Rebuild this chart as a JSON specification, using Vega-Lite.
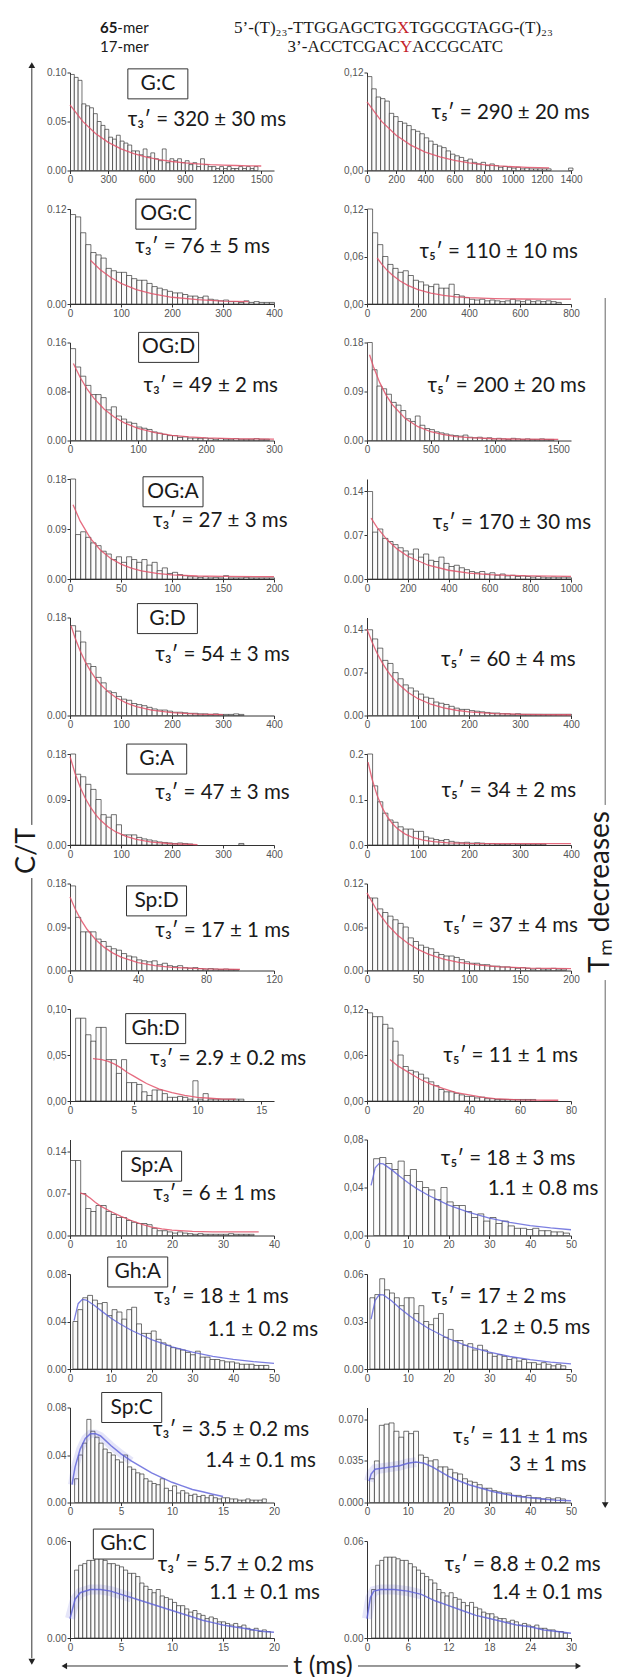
{
"$schema":"https://vega.github.io/schema/vega-lite/v6.json",
"background":"white",
"padding":{"left":12,"top":0,"right":0,"bottom":0},
"bounds":"flush",
"align":"each",
"columns":2,
"spacing":{"row":38.5,"column":93},
"config":{
 "view":{"stroke":null},
 "font":"Lato",
 "axis":{"title":null,"grid":false,"labelFont":"Liberation Sans","labelFontSize":10,"labelColor":"#555","domainColor":"#333","tickColor":"#333","tickSize":3,"labelPadding":1,"labelOverlap":false,"labelFlush":false,"domainWidth":1,"tickWidth":1},
 "text":{"font":"Lato","color":"#1a1a1a"}
},
"datasets":{
"b1L":[{"t":0,"c":0.098},{"t":30,"c":0.095},{"t":60,"c":0.092},{"t":90,"c":0.068},{"t":120,"c":0.066},{"t":150,"c":0.064},{"t":180,"c":0.058},{"t":210,"c":0.05},{"t":240,"c":0.046},{"t":270,"c":0.042},{"t":300,"c":0.034},{"t":330,"c":0.032},{"t":360,"c":0.036},{"t":390,"c":0.03},{"t":420,"c":0.028},{"t":450,"c":0.026},{"t":480,"c":0.02},{"t":510,"c":0.02},{"t":540,"c":0.016},{"t":570,"c":0.022},{"t":600,"c":0.014},{"t":630,"c":0.018},{"t":660,"c":0.012},{"t":690,"c":0.01},{"t":720,"c":0.022},{"t":750,"c":0.008},{"t":780,"c":0.012},{"t":810,"c":0.01},{"t":840,"c":0.012},{"t":870,"c":0.008},{"t":900,"c":0.01},{"t":930,"c":0.006},{"t":960,"c":0.008},{"t":990,"c":0.004},{"t":1020,"c":0.012},{"t":1050,"c":0.006},{"t":1080,"c":0.004},{"t":1110,"c":0.004},{"t":1140,"c":0.002},{"t":1170,"c":0.004},{"t":1200,"c":0.002},{"t":1230,"c":0.004},{"t":1260,"c":0.002},{"t":1290,"c":0.002},{"t":1320,"c":0.004},{"t":1350,"c":0.002},{"t":1380,"c":0.004},{"t":1410,"c":0.002},{"t":1440,"c":0.004}],
"f1L":[{"t":0,"f":0.067},{"t":100,"f":0.0501},{"t":200,"f":0.0377},{"t":300,"f":0.0287},{"t":400,"f":0.022},{"t":500,"f":0.0172},{"t":600,"f":0.0137},{"t":700,"f":0.0111},{"t":800,"f":0.0092},{"t":900,"f":0.0078},{"t":1000,"f":0.0068},{"t":1100,"f":0.006},{"t":1200,"f":0.0055},{"t":1300,"f":0.0051},{"t":1400,"f":0.0048},{"t":1500,"f":0.0046}],
"b1R":[{"t":0,"c":0.115},{"t":30,"c":0.1},{"t":60,"c":0.09},{"t":90,"c":0.088},{"t":120,"c":0.085},{"t":150,"c":0.07},{"t":180,"c":0.066},{"t":210,"c":0.06},{"t":240,"c":0.058},{"t":270,"c":0.055},{"t":300,"c":0.05},{"t":330,"c":0.048},{"t":360,"c":0.045},{"t":390,"c":0.04},{"t":420,"c":0.036},{"t":450,"c":0.032},{"t":480,"c":0.03},{"t":510,"c":0.028},{"t":540,"c":0.024},{"t":570,"c":0.02},{"t":600,"c":0.018},{"t":630,"c":0.016},{"t":660,"c":0.012},{"t":690,"c":0.014},{"t":720,"c":0.01},{"t":750,"c":0.008},{"t":780,"c":0.01},{"t":810,"c":0.006},{"t":840,"c":0.008},{"t":870,"c":0.006},{"t":900,"c":0.004},{"t":930,"c":0.005},{"t":960,"c":0.004},{"t":990,"c":0.003},{"t":1020,"c":0.004},{"t":1050,"c":0.002},{"t":1080,"c":0.003},{"t":1110,"c":0.002},{"t":1140,"c":0.002},{"t":1170,"c":0.002},{"t":1200,"c":0.002},{"t":1230,"c":0.002},{"t":1380,"c":0.003}],
"f1R":[{"t":0,"f":0.084},{"t":100,"f":0.0601},{"t":200,"f":0.0431},{"t":300,"f":0.0311},{"t":400,"f":0.0226},{"t":500,"f":0.0166},{"t":600,"f":0.0124},{"t":700,"f":0.0093},{"t":800,"f":0.0072},{"t":900,"f":0.0057},{"t":1000,"f":0.0046},{"t":1100,"f":0.0038},{"t":1250,"f":0.0031}],
"b2L":[{"t":0,"c":0.113},{"t":10,"c":0.11},{"t":20,"c":0.09},{"t":30,"c":0.075},{"t":40,"c":0.065},{"t":50,"c":0.062},{"t":60,"c":0.058},{"t":70,"c":0.045},{"t":80,"c":0.042},{"t":90,"c":0.04},{"t":100,"c":0.04},{"t":110,"c":0.036},{"t":120,"c":0.032},{"t":130,"c":0.03},{"t":140,"c":0.03},{"t":150,"c":0.026},{"t":160,"c":0.022},{"t":170,"c":0.02},{"t":180,"c":0.018},{"t":190,"c":0.016},{"t":200,"c":0.014},{"t":210,"c":0.014},{"t":220,"c":0.012},{"t":230,"c":0.01},{"t":240,"c":0.01},{"t":250,"c":0.008},{"t":260,"c":0.01},{"t":270,"c":0.006},{"t":280,"c":0.005},{"t":290,"c":0.004},{"t":300,"c":0.005},{"t":310,"c":0.003},{"t":320,"c":0.003},{"t":330,"c":0.002},{"t":340,"c":0.004},{"t":350,"c":0.002},{"t":360,"c":0.003},{"t":370,"c":0.002},{"t":380,"c":0.002},{"t":390,"c":0.002}],
"f2L":[{"t":40,"f":0.0552},{"t":60,"f":0.0429},{"t":80,"f":0.0334},{"t":100,"f":0.0261},{"t":130,"f":0.0183},{"t":160,"f":0.013},{"t":200,"f":0.0085},{"t":250,"f":0.0054},{"t":300,"f":0.0037},{"t":350,"f":0.0029}],
"b2R":[{"t":0,"c":0.12},{"t":20,"c":0.09},{"t":40,"c":0.075},{"t":60,"c":0.06},{"t":80,"c":0.05},{"t":100,"c":0.045},{"t":120,"c":0.04},{"t":140,"c":0.042},{"t":160,"c":0.036},{"t":180,"c":0.03},{"t":200,"c":0.028},{"t":220,"c":0.024},{"t":240,"c":0.022},{"t":260,"c":0.025},{"t":280,"c":0.02},{"t":300,"c":0.02},{"t":320,"c":0.025},{"t":340,"c":0.012},{"t":360,"c":0.01},{"t":380,"c":0.008},{"t":400,"c":0.006},{"t":420,"c":0.005},{"t":440,"c":0.006},{"t":460,"c":0.004},{"t":480,"c":0.005},{"t":500,"c":0.004},{"t":520,"c":0.003},{"t":540,"c":0.004},{"t":560,"c":0.006},{"t":580,"c":0.004},{"t":600,"c":0.003},{"t":620,"c":0.005},{"t":640,"c":0.003},{"t":660,"c":0.004},{"t":680,"c":0.003},{"t":700,"c":0.004},{"t":720,"c":0.003},{"t":740,"c":0.002}],
"f2R":[{"t":40,"f":0.0581},{"t":60,"f":0.0495},{"t":80,"f":0.0422},{"t":100,"f":0.0362},{"t":130,"f":0.029},{"t":160,"f":0.0235},{"t":200,"f":0.0182},{"t":250,"f":0.0137},{"t":300,"f":0.0109},{"t":350,"f":0.0091},{"t":400,"f":0.008},{"t":500,"f":0.0068},{"t":600,"f":0.0063},{"t":700,"f":0.0061},{"t":800,"f":0.0061}],
"b3L":[{"t":0,"c":0.15},{"t":7.5,"c":0.12},{"t":15,"c":0.105},{"t":22.5,"c":0.09},{"t":30,"c":0.075},{"t":37.5,"c":0.075},{"t":45,"c":0.07},{"t":52.5,"c":0.05},{"t":60,"c":0.055},{"t":67.5,"c":0.04},{"t":75,"c":0.035},{"t":82.5,"c":0.03},{"t":90,"c":0.028},{"t":97.5,"c":0.022},{"t":105,"c":0.02},{"t":112.5,"c":0.018},{"t":120,"c":0.014},{"t":127.5,"c":0.012},{"t":135,"c":0.01},{"t":142.5,"c":0.008},{"t":150,"c":0.008},{"t":157.5,"c":0.005},{"t":165,"c":0.006},{"t":172.5,"c":0.004},{"t":180,"c":0.004},{"t":187.5,"c":0.003},{"t":195,"c":0.004},{"t":202.5,"c":0.003},{"t":210,"c":0.002},{"t":217.5,"c":0.003},{"t":225,"c":0.002},{"t":232.5,"c":0.002},{"t":240,"c":0.003},{"t":247.5,"c":0.002},{"t":255,"c":0.002},{"t":262.5,"c":0.002},{"t":270,"c":0.003},{"t":277.5,"c":0.002},{"t":285,"c":0.002}],
"f3L":[{"t":5,"f":0.1257},{"t":15,"f":0.1029},{"t":25,"f":0.0843},{"t":35,"f":0.0691},{"t":50,"f":0.0514},{"t":65,"f":0.0384},{"t":80,"f":0.0288},{"t":100,"f":0.0198},{"t":125,"f":0.0127},{"t":150,"f":0.0084},{"t":175,"f":0.0058},{"t":200,"f":0.0043},{"t":250,"f":0.0028},{"t":300,"f":0.0023}],
"b3R":[{"t":0,"c":0.18},{"t":37.5,"c":0.13},{"t":75,"c":0.1},{"t":112.5,"c":0.095},{"t":150,"c":0.085},{"t":187.5,"c":0.07},{"t":225,"c":0.065},{"t":262.5,"c":0.055},{"t":300,"c":0.04},{"t":337.5,"c":0.035},{"t":375,"c":0.045},{"t":412.5,"c":0.028},{"t":450,"c":0.022},{"t":487.5,"c":0.02},{"t":525,"c":0.016},{"t":562.5,"c":0.014},{"t":600,"c":0.012},{"t":637.5,"c":0.01},{"t":675,"c":0.009},{"t":712.5,"c":0.008},{"t":750,"c":0.01},{"t":787.5,"c":0.006},{"t":825,"c":0.005},{"t":862.5,"c":0.006},{"t":900,"c":0.004},{"t":937.5,"c":0.005},{"t":975,"c":0.003},{"t":1012.5,"c":0.004},{"t":1050,"c":0.003},{"t":1087.5,"c":0.002},{"t":1125,"c":0.004},{"t":1162.5,"c":0.003},{"t":1200,"c":0.002},{"t":1237.5,"c":0.003},{"t":1275,"c":0.002},{"t":1312.5,"c":0.002},{"t":1350,"c":0.003},{"t":1387.5,"c":0.002},{"t":1425,"c":0.002}],
"f3R":[{"t":20,"f":0.1576},{"t":50,"f":0.136},{"t":100,"f":0.1063},{"t":150,"f":0.0833},{"t":200,"f":0.0653},{"t":300,"f":0.0404},{"t":400,"f":0.0253},{"t":500,"f":0.0161},{"t":600,"f":0.0106},{"t":700,"f":0.0072},{"t":800,"f":0.0051},{"t":1000,"f":0.0032},{"t":1200,"f":0.0024},{"t":1500,"f":0.0021}],
"b4L":[{"t":0,"c":0.18},{"t":5,"c":0.08},{"t":10,"c":0.085},{"t":15,"c":0.075},{"t":20,"c":0.065},{"t":25,"c":0.06},{"t":30,"c":0.05},{"t":35,"c":0.045},{"t":40,"c":0.035},{"t":45,"c":0.04},{"t":50,"c":0.03},{"t":55,"c":0.04},{"t":60,"c":0.035},{"t":65,"c":0.03},{"t":70,"c":0.035},{"t":75,"c":0.025},{"t":80,"c":0.03},{"t":85,"c":0.015},{"t":90,"c":0.02},{"t":95,"c":0.01},{"t":100,"c":0.012},{"t":105,"c":0.008},{"t":110,"c":0.006},{"t":115,"c":0.004},{"t":120,"c":0.004},{"t":125,"c":0.003},{"t":130,"c":0.004},{"t":135,"c":0.002},{"t":140,"c":0.003},{"t":145,"c":0.002},{"t":150,"c":0.006},{"t":155,"c":0.002},{"t":160,"c":0.002},{"t":165,"c":0.002},{"t":170,"c":0.003},{"t":175,"c":0.002},{"t":180,"c":0.002},{"t":185,"c":0.002},{"t":190,"c":0.002},{"t":195,"c":0.002}],
"f4L":[{"t":3,"f":0.1337},{"t":10,"f":0.1041},{"t":20,"f":0.0731},{"t":30,"f":0.0517},{"t":40,"f":0.037},{"t":50,"f":0.0268},{"t":60,"f":0.0197},{"t":70,"f":0.0148},{"t":85,"f":0.0102},{"t":100,"f":0.0076},{"t":125,"f":0.0054},{"t":150,"f":0.0046},{"t":200,"f":0.0041}],
"b4R":[{"t":0,"c":0.14},{"t":25,"c":0.075},{"t":50,"c":0.08},{"t":75,"c":0.065},{"t":100,"c":0.06},{"t":125,"c":0.055},{"t":150,"c":0.05},{"t":175,"c":0.045},{"t":200,"c":0.04},{"t":225,"c":0.048},{"t":250,"c":0.035},{"t":275,"c":0.04},{"t":300,"c":0.03},{"t":325,"c":0.028},{"t":350,"c":0.035},{"t":375,"c":0.025},{"t":400,"c":0.02},{"t":425,"c":0.022},{"t":450,"c":0.018},{"t":475,"c":0.015},{"t":500,"c":0.012},{"t":525,"c":0.01},{"t":550,"c":0.012},{"t":575,"c":0.008},{"t":600,"c":0.01},{"t":625,"c":0.006},{"t":650,"c":0.008},{"t":675,"c":0.005},{"t":700,"c":0.006},{"t":725,"c":0.004},{"t":750,"c":0.005},{"t":775,"c":0.004},{"t":800,"c":0.003},{"t":825,"c":0.004},{"t":850,"c":0.003},{"t":875,"c":0.002},{"t":900,"c":0.003},{"t":925,"c":0.002},{"t":950,"c":0.003},{"t":975,"c":0.002}],
"f4R":[{"t":20,"f":0.0973},{"t":50,"f":0.0822},{"t":100,"f":0.0623},{"t":150,"f":0.0474},{"t":200,"f":0.0364},{"t":300,"f":0.022},{"t":400,"f":0.014},{"t":500,"f":0.0095},{"t":600,"f":0.0071},{"t":700,"f":0.0057},{"t":800,"f":0.0049},{"t":1000,"f":0.0043}],
"b5L":[{"t":0,"c":0.165},{"t":10,"c":0.155},{"t":20,"c":0.135},{"t":30,"c":0.095},{"t":40,"c":0.09},{"t":50,"c":0.07},{"t":60,"c":0.06},{"t":70,"c":0.045},{"t":80,"c":0.042},{"t":90,"c":0.035},{"t":100,"c":0.03},{"t":110,"c":0.028},{"t":120,"c":0.022},{"t":130,"c":0.02},{"t":140,"c":0.018},{"t":150,"c":0.015},{"t":160,"c":0.012},{"t":170,"c":0.01},{"t":180,"c":0.01},{"t":190,"c":0.008},{"t":200,"c":0.006},{"t":210,"c":0.006},{"t":220,"c":0.005},{"t":230,"c":0.004},{"t":240,"c":0.004},{"t":250,"c":0.003},{"t":260,"c":0.003},{"t":270,"c":0.002},{"t":280,"c":0.003},{"t":290,"c":0.002},{"t":300,"c":0.002},{"t":310,"c":0.002},{"t":320,"c":0.003},{"t":330,"c":0.002}],
"f5L":[{"t":2,"f":0.1648},{"t":10,"f":0.1423},{"t":20,"f":0.1184},{"t":30,"f":0.0985},{"t":40,"f":0.0821},{"t":50,"f":0.0684},{"t":60,"f":0.057},{"t":75,"f":0.0434},{"t":90,"f":0.0331},{"t":110,"f":0.0232},{"t":130,"f":0.0163},{"t":160,"f":0.0098},{"t":200,"f":0.0052},{"t":250,"f":0.0027},{"t":300,"f":0.0017}],
"b5R":[{"t":0,"c":0.14},{"t":10,"c":0.125},{"t":20,"c":0.11},{"t":30,"c":0.09},{"t":40,"c":0.085},{"t":50,"c":0.07},{"t":60,"c":0.06},{"t":70,"c":0.05},{"t":80,"c":0.045},{"t":90,"c":0.04},{"t":100,"c":0.035},{"t":110,"c":0.03},{"t":120,"c":0.028},{"t":130,"c":0.022},{"t":140,"c":0.02},{"t":150,"c":0.018},{"t":160,"c":0.015},{"t":170,"c":0.012},{"t":180,"c":0.01},{"t":190,"c":0.01},{"t":200,"c":0.008},{"t":210,"c":0.007},{"t":220,"c":0.006},{"t":230,"c":0.005},{"t":240,"c":0.004},{"t":250,"c":0.004},{"t":260,"c":0.003},{"t":270,"c":0.003},{"t":280,"c":0.002},{"t":290,"c":0.003},{"t":300,"c":0.002},{"t":310,"c":0.002},{"t":320,"c":0.002},{"t":330,"c":0.002},{"t":340,"c":0.002},{"t":350,"c":0.002},{"t":360,"c":0.002},{"t":370,"c":0.002},{"t":380,"c":0.002},{"t":390,"c":0.002}],
"f5R":[{"t":0,"f":0.141},{"t":10,"f":0.1195},{"t":20,"f":0.1013},{"t":30,"f":0.0859},{"t":40,"f":0.0729},{"t":50,"f":0.0618},{"t":60,"f":0.0525},{"t":80,"f":0.0379},{"t":100,"f":0.0274},{"t":125,"f":0.0184},{"t":150,"f":0.0125},{"t":175,"f":0.0086},{"t":200,"f":0.006},{"t":250,"f":0.0032},{"t":300,"f":0.0019},{"t":350,"f":0.0014},{"t":400,"f":0.0012}],
"b6L":[{"t":0,"c":0.18},{"t":10,"c":0.14},{"t":20,"c":0.135},{"t":30,"c":0.12},{"t":40,"c":0.11},{"t":50,"c":0.09},{"t":60,"c":0.06},{"t":70,"c":0.055},{"t":80,"c":0.06},{"t":90,"c":0.04},{"t":100,"c":0.02},{"t":110,"c":0.02},{"t":120,"c":0.02},{"t":130,"c":0.015},{"t":140,"c":0.012},{"t":150,"c":0.01},{"t":160,"c":0.008},{"t":170,"c":0.006},{"t":180,"c":0.005},{"t":190,"c":0.004},{"t":200,"c":0.003},{"t":210,"c":0.004},{"t":220,"c":0.003},{"t":230,"c":0.002},{"t":330,"c":0.003}],
"f6L":[{"t":0,"f":0.175},{"t":10,"f":0.1415},{"t":20,"f":0.1144},{"t":30,"f":0.0925},{"t":40,"f":0.0747},{"t":50,"f":0.0604},{"t":60,"f":0.0488},{"t":75,"f":0.0355},{"t":90,"f":0.0258},{"t":110,"f":0.0169},{"t":130,"f":0.011},{"t":160,"f":0.0058},{"t":200,"f":0.0025},{"t":250,"f":0.0009}],
"b6R":[{"t":0,"c":0.2},{"t":10,"c":0.13},{"t":20,"c":0.095},{"t":30,"c":0.07},{"t":40,"c":0.055},{"t":50,"c":0.05},{"t":60,"c":0.04},{"t":70,"c":0.035},{"t":80,"c":0.035},{"t":90,"c":0.03},{"t":100,"c":0.03},{"t":110,"c":0.018},{"t":120,"c":0.015},{"t":130,"c":0.012},{"t":140,"c":0.01},{"t":150,"c":0.012},{"t":160,"c":0.008},{"t":170,"c":0.006},{"t":180,"c":0.005},{"t":190,"c":0.006},{"t":200,"c":0.004},{"t":210,"c":0.005},{"t":220,"c":0.004},{"t":230,"c":0.003},{"t":240,"c":0.003},{"t":250,"c":0.002},{"t":260,"c":0.002},{"t":270,"c":0.002},{"t":280,"c":0.003},{"t":290,"c":0.002},{"t":300,"c":0.002},{"t":310,"c":0.002},{"t":320,"c":0.002},{"t":330,"c":0.002},{"t":340,"c":0.002}],
"f6R":[{"t":2,"f":0.1822},{"t":10,"f":0.1446},{"t":20,"f":0.1085},{"t":30,"f":0.0816},{"t":40,"f":0.0616},{"t":50,"f":0.0467},{"t":60,"f":0.0355},{"t":75,"f":0.0239},{"t":90,"f":0.0165},{"t":110,"f":0.0105},{"t":130,"f":0.0072},{"t":160,"f":0.0047},{"t":200,"f":0.0035},{"t":300,"f":0.003},{"t":400,"f":0.003}],
"b7L":[{"t":0,"c":0.175},{"t":3,"c":0.11},{"t":6,"c":0.08},{"t":9,"c":0.08},{"t":12,"c":0.08},{"t":15,"c":0.065},{"t":18,"c":0.06},{"t":21,"c":0.05},{"t":24,"c":0.045},{"t":27,"c":0.042},{"t":30,"c":0.035},{"t":33,"c":0.03},{"t":36,"c":0.028},{"t":39,"c":0.022},{"t":42,"c":0.02},{"t":45,"c":0.018},{"t":48,"c":0.02},{"t":51,"c":0.012},{"t":54,"c":0.015},{"t":57,"c":0.01},{"t":60,"c":0.008},{"t":63,"c":0.01},{"t":66,"c":0.006},{"t":69,"c":0.005},{"t":72,"c":0.006},{"t":75,"c":0.004},{"t":78,"c":0.003},{"t":81,"c":0.004},{"t":84,"c":0.003},{"t":87,"c":0.002},{"t":90,"c":0.003},{"t":93,"c":0.002},{"t":96,"c":0.002}],
"f7L":[{"t":0,"f":0.152},{"t":3,"f":0.1277},{"t":6,"f":0.1074},{"t":10,"f":0.0853},{"t":15,"f":0.0641},{"t":20,"f":0.0483},{"t":25,"f":0.0365},{"t":30,"f":0.0277},{"t":40,"f":0.0163},{"t":50,"f":0.0099},{"t":60,"f":0.0064},{"t":80,"f":0.0034},{"t":100,"f":0.0024}],
"b7R":[{"t":0,"c":0.1},{"t":5,"c":0.1},{"t":10,"c":0.085},{"t":15,"c":0.08},{"t":20,"c":0.075},{"t":25,"c":0.07},{"t":30,"c":0.065},{"t":35,"c":0.06},{"t":40,"c":0.045},{"t":45,"c":0.04},{"t":50,"c":0.035},{"t":55,"c":0.032},{"t":60,"c":0.03},{"t":65,"c":0.025},{"t":70,"c":0.022},{"t":75,"c":0.02},{"t":80,"c":0.02},{"t":85,"c":0.018},{"t":90,"c":0.015},{"t":95,"c":0.012},{"t":100,"c":0.01},{"t":105,"c":0.01},{"t":110,"c":0.008},{"t":115,"c":0.008},{"t":120,"c":0.006},{"t":125,"c":0.006},{"t":130,"c":0.005},{"t":135,"c":0.005},{"t":140,"c":0.004},{"t":145,"c":0.003},{"t":150,"c":0.004},{"t":155,"c":0.003},{"t":160,"c":0.002},{"t":165,"c":0.003},{"t":170,"c":0.002},{"t":175,"c":0.002},{"t":180,"c":0.003},{"t":185,"c":0.002},{"t":190,"c":0.002}],
"f7R":[{"t":0,"f":0.107},{"t":10,"f":0.0821},{"t":20,"f":0.0632},{"t":30,"f":0.0487},{"t":40,"f":0.0376},{"t":50,"f":0.0292},{"t":60,"f":0.0227},{"t":75,"f":0.0158},{"t":90,"f":0.0112},{"t":110,"f":0.0074},{"t":130,"f":0.0051},{"t":160,"f":0.0034},{"t":200,"f":0.0025}],
"b8L":[{"t":0.4,"c":0.09},{"t":0.8,"c":0.09},{"t":1.2,"c":0.072},{"t":1.6,"c":0.065},{"t":2,"c":0.08},{"t":2.4,"c":0.08},{"t":2.8,"c":0.045},{"t":3.2,"c":0.045},{"t":3.6,"c":0.03},{"t":4,"c":0.045},{"t":4.4,"c":0.02},{"t":4.8,"c":0.02},{"t":5.2,"c":0.018},{"t":5.6,"c":0.01},{"t":6,"c":0.006},{"t":6.4,"c":0.012},{"t":6.8,"c":0.012},{"t":7.2,"c":0.008},{"t":7.6,"c":0.004},{"t":8,"c":0.004},{"t":8.4,"c":0.005},{"t":8.8,"c":0.004},{"t":9.2,"c":0.002},{"t":9.6,"c":0.022},{"t":10,"c":0.002},{"t":10.4,"c":0.008},{"t":10.8,"c":0.002},{"t":11.2,"c":0.002},{"t":11.6,"c":0.002},{"t":12,"c":0.002},{"t":12.4,"c":0.002},{"t":12.8,"c":0.002},{"t":13.2,"c":0.002}],
"f8L":[{"t":1.8,"f":0.046},{"t":2.5,"f":0.045},{"t":3,"f":0.043},{"t":3.5,"f":0.04},{"t":4,"f":0.036},{"t":4.5,"f":0.031},{"t":5,"f":0.027},{"t":5.5,"f":0.023},{"t":6,"f":0.019},{"t":7,"f":0.013},{"t":8,"f":0.009},{"t":9,"f":0.006},{"t":10,"f":0.004},{"t":11,"f":0.003},{"t":12,"f":0.002},{"t":13,"f":0.002}],
"b8R":[{"t":0,"c":0.115},{"t":2,"c":0.11},{"t":4,"c":0.11},{"t":6,"c":0.1},{"t":8,"c":0.095},{"t":10,"c":0.078},{"t":12,"c":0.06},{"t":14,"c":0.045},{"t":16,"c":0.04},{"t":18,"c":0.038},{"t":20,"c":0.035},{"t":22,"c":0.03},{"t":24,"c":0.025},{"t":26,"c":0.02},{"t":28,"c":0.015},{"t":30,"c":0.012},{"t":32,"c":0.012},{"t":34,"c":0.01},{"t":36,"c":0.008},{"t":38,"c":0.006},{"t":40,"c":0.006},{"t":42,"c":0.004},{"t":44,"c":0.005},{"t":46,"c":0.003},{"t":48,"c":0.003},{"t":50,"c":0.002},{"t":52,"c":0.002},{"t":54,"c":0.002},{"t":56,"c":0.002},{"t":58,"c":0.002},{"t":60,"c":0.002},{"t":62,"c":0.002},{"t":64,"c":0.002}],
"f8R":[{"t":9,"f":0.054},{"t":12,"f":0.046},{"t":15,"f":0.04},{"t":18,"f":0.034},{"t":21,"f":0.028},{"t":25,"f":0.022},{"t":30,"f":0.016},{"t":35,"f":0.011},{"t":40,"f":0.008},{"t":45,"f":0.005},{"t":50,"f":0.003},{"t":60,"f":0.0015},{"t":70,"f":0.001},{"t":75,"f":0.001}],
"b9L":[{"t":0,"c":0.125},{"t":1,"c":0.125},{"t":2,"c":0.07},{"t":3,"c":0.045},{"t":4,"c":0.04},{"t":5,"c":0.05},{"t":6,"c":0.05},{"t":7,"c":0.04},{"t":8,"c":0.035},{"t":9,"c":0.03},{"t":10,"c":0.03},{"t":11,"c":0.025},{"t":12,"c":0.022},{"t":13,"c":0.02},{"t":14,"c":0.02},{"t":15,"c":0.018},{"t":16,"c":0.012},{"t":17,"c":0.008},{"t":18,"c":0.008},{"t":19,"c":0.006},{"t":20,"c":0.004},{"t":21,"c":0.006},{"t":22,"c":0.004},{"t":23,"c":0.003},{"t":24,"c":0.002},{"t":25,"c":0.003},{"t":26,"c":0.002},{"t":27,"c":0.002},{"t":28,"c":0.002},{"t":29,"c":0.002},{"t":30,"c":0.002},{"t":31,"c":0.003},{"t":32,"c":0.002},{"t":33,"c":0.002},{"t":34,"c":0.002},{"t":35,"c":0.002}],
"f9L":[{"t":2,"f":0.071},{"t":3,"f":0.068},{"t":4,"f":0.062},{"t":5,"f":0.055},{"t":6,"f":0.049},{"t":8,"f":0.04},{"t":10,"f":0.032},{"t":12,"f":0.025},{"t":14,"f":0.019},{"t":16,"f":0.014},{"t":18,"f":0.011},{"t":20,"f":0.009},{"t":24,"f":0.007},{"t":28,"f":0.006},{"t":32,"f":0.006},{"t":37,"f":0.006}],
"b9R":[{"t":1.5,"c":0.064},{"t":3,"c":0.065},{"t":4.5,"c":0.06},{"t":6,"c":0.055},{"t":7.5,"c":0.062},{"t":9,"c":0.05},{"t":10.5,"c":0.055},{"t":12,"c":0.045},{"t":13.5,"c":0.04},{"t":15,"c":0.038},{"t":16.5,"c":0.03},{"t":18,"c":0.04},{"t":19.5,"c":0.028},{"t":21,"c":0.025},{"t":22.5,"c":0.025},{"t":24,"c":0.02},{"t":25.5,"c":0.015},{"t":27,"c":0.018},{"t":28.5,"c":0.012},{"t":30,"c":0.015},{"t":31.5,"c":0.01},{"t":33,"c":0.012},{"t":34.5,"c":0.008},{"t":36,"c":0.006},{"t":37.5,"c":0.006},{"t":39,"c":0.005},{"t":40.5,"c":0.006},{"t":42,"c":0.004},{"t":43.5,"c":0.004},{"t":45,"c":0.003},{"t":46.5,"c":0.003},{"t":48,"c":0.002}],
"f9R":[{"t":1,"f":0.0418},{"t":2,"f":0.0564},{"t":3,"f":0.0601},{"t":4,"f":0.0597},{"t":6,"f":0.0549},{"t":8,"f":0.0494},{"t":10,"f":0.0442},{"t":12,"f":0.0395},{"t":15,"f":0.0335},{"t":20,"f":0.0253},{"t":25,"f":0.0192},{"t":30,"f":0.0145},{"t":35,"f":0.011},{"t":40,"f":0.0083},{"t":45,"f":0.0063},{"t":50,"f":0.0048}],
"b10L":[{"t":0.6,"c":0.04},{"t":1.8,"c":0.05},{"t":3,"c":0.06},{"t":4.2,"c":0.062},{"t":5.4,"c":0.058},{"t":6.6,"c":0.055},{"t":7.8,"c":0.056},{"t":9,"c":0.045},{"t":10.2,"c":0.05},{"t":11.4,"c":0.048},{"t":12.6,"c":0.042},{"t":13.8,"c":0.05},{"t":15,"c":0.052},{"t":16.2,"c":0.038},{"t":17.4,"c":0.03},{"t":18.6,"c":0.03},{"t":19.8,"c":0.032},{"t":21,"c":0.025},{"t":22.2,"c":0.022},{"t":23.4,"c":0.02},{"t":24.6,"c":0.018},{"t":25.8,"c":0.017},{"t":27,"c":0.016},{"t":28.2,"c":0.014},{"t":29.4,"c":0.012},{"t":30.6,"c":0.015},{"t":31.8,"c":0.01},{"t":33,"c":0.01},{"t":34.2,"c":0.008},{"t":35.4,"c":0.008},{"t":36.6,"c":0.007},{"t":37.8,"c":0.006},{"t":39,"c":0.006},{"t":40.2,"c":0.005},{"t":41.4,"c":0.004},{"t":42.6,"c":0.004},{"t":43.8,"c":0.004},{"t":45,"c":0.003},{"t":46.2,"c":0.003},{"t":47.4,"c":0.003}],
"f10L":[{"t":1,"f":0.0407},{"t":2,"f":0.055},{"t":3,"f":0.0586},{"t":4,"f":0.0581},{"t":6,"f":0.0535},{"t":8,"f":0.0481},{"t":10,"f":0.043},{"t":12,"f":0.0385},{"t":15,"f":0.0326},{"t":20,"f":0.0247},{"t":25,"f":0.0187},{"t":30,"f":0.0142},{"t":35,"f":0.0107},{"t":40,"f":0.0081},{"t":45,"f":0.0062},{"t":50,"f":0.0047}],
"b10R":[{"t":0.6,"c":0.045},{"t":1.8,"c":0.047},{"t":3,"c":0.057},{"t":4.2,"c":0.05},{"t":5.4,"c":0.048},{"t":6.6,"c":0.045},{"t":7.8,"c":0.04},{"t":9,"c":0.045},{"t":10.2,"c":0.045},{"t":11.4,"c":0.035},{"t":12.6,"c":0.04},{"t":13.8,"c":0.03},{"t":15,"c":0.028},{"t":16.2,"c":0.032},{"t":17.4,"c":0.035},{"t":18.6,"c":0.02},{"t":19.8,"c":0.025},{"t":21,"c":0.018},{"t":22.2,"c":0.018},{"t":23.4,"c":0.015},{"t":24.6,"c":0.016},{"t":25.8,"c":0.012},{"t":27,"c":0.015},{"t":28.2,"c":0.012},{"t":29.4,"c":0.01},{"t":30.6,"c":0.008},{"t":31.8,"c":0.009},{"t":33,"c":0.008},{"t":34.2,"c":0.006},{"t":35.4,"c":0.007},{"t":36.6,"c":0.005},{"t":37.8,"c":0.006},{"t":39,"c":0.004},{"t":40.2,"c":0.004},{"t":41.4,"c":0.003},{"t":42.6,"c":0.004},{"t":43.8,"c":0.003},{"t":45,"c":0.002},{"t":46.2,"c":0.003},{"t":47.4,"c":0.002}],
"f10R":[{"t":1,"f":0.0315},{"t":2,"f":0.0434},{"t":3,"f":0.0469},{"t":4,"f":0.0468},{"t":6,"f":0.0431},{"t":8,"f":0.0386},{"t":10,"f":0.0344},{"t":12,"f":0.0306},{"t":15,"f":0.0257},{"t":20,"f":0.0191},{"t":25,"f":0.0142},{"t":30,"f":0.0106},{"t":35,"f":0.0079},{"t":40,"f":0.0059},{"t":45,"f":0.0044},{"t":50,"f":0.0033}],
"b11L":[{"t":0.4,"c":0.02},{"t":0.8,"c":0.04},{"t":1.2,"c":0.05},{"t":1.6,"c":0.07},{"t":2,"c":0.06},{"t":2.4,"c":0.055},{"t":2.8,"c":0.05},{"t":3.2,"c":0.045},{"t":3.6,"c":0.042},{"t":4,"c":0.04},{"t":4.4,"c":0.036},{"t":4.8,"c":0.034},{"t":5.2,"c":0.04},{"t":5.6,"c":0.03},{"t":6,"c":0.028},{"t":6.4,"c":0.025},{"t":6.8,"c":0.024},{"t":7.2,"c":0.02},{"t":7.6,"c":0.018},{"t":8,"c":0.016},{"t":8.4,"c":0.015},{"t":8.8,"c":0.02},{"t":9.2,"c":0.012},{"t":9.6,"c":0.01},{"t":10,"c":0.014},{"t":10.4,"c":0.008},{"t":10.8,"c":0.01},{"t":11.2,"c":0.008},{"t":11.6,"c":0.006},{"t":12,"c":0.007},{"t":12.4,"c":0.005},{"t":12.8,"c":0.006},{"t":13.2,"c":0.004},{"t":13.6,"c":0.006},{"t":14,"c":0.004},{"t":14.4,"c":0.003},{"t":14.8,"c":0.004},{"t":15.2,"c":0.004},{"t":15.6,"c":0.003},{"t":16,"c":0.003},{"t":16.4,"c":0.002},{"t":16.8,"c":0.002},{"t":17.2,"c":0.003},{"t":17.6,"c":0.002},{"t":18,"c":0.002},{"t":18.4,"c":0.002},{"t":18.8,"c":0.003}],
"f11L":[{"t":0.2,"f":0.015},{"t":0.5,"f":0.03},{"t":1,"f":0.045},{"t":1.5,"f":0.054},{"t":2,"f":0.058},{"t":2.5,"f":0.058},{"t":3,"f":0.056},{"t":4,"f":0.048},{"t":5,"f":0.041},{"t":6,"f":0.035},{"t":7,"f":0.03},{"t":8,"f":0.025},{"t":9,"f":0.021},{"t":10,"f":0.017},{"t":11,"f":0.014},{"t":12,"f":0.011},{"t":13,"f":0.009},{"t":14,"f":0.007},{"t":15,"f":0.005}],
"b11R":[{"t":0.5,"c":0.02},{"t":1.7,"c":0.035},{"t":2.9,"c":0.065},{"t":4.1,"c":0.066},{"t":5.3,"c":0.067},{"t":6.5,"c":0.06},{"t":7.7,"c":0.055},{"t":8.9,"c":0.06},{"t":10.1,"c":0.058},{"t":11.3,"c":0.06},{"t":12.5,"c":0.04},{"t":13.7,"c":0.038},{"t":14.9,"c":0.035},{"t":16.1,"c":0.036},{"t":17.3,"c":0.03},{"t":18.5,"c":0.03},{"t":19.7,"c":0.028},{"t":20.9,"c":0.025},{"t":22.1,"c":0.024},{"t":23.3,"c":0.02},{"t":24.5,"c":0.018},{"t":25.7,"c":0.017},{"t":26.9,"c":0.015},{"t":28.1,"c":0.012},{"t":29.3,"c":0.012},{"t":30.5,"c":0.01},{"t":31.7,"c":0.009},{"t":32.9,"c":0.008},{"t":34.1,"c":0.008},{"t":35.3,"c":0.006},{"t":36.5,"c":0.006},{"t":37.7,"c":0.005},{"t":38.9,"c":0.006},{"t":40.1,"c":0.004},{"t":41.3,"c":0.004},{"t":42.5,"c":0.003},{"t":43.7,"c":0.004},{"t":44.9,"c":0.003},{"t":46.1,"c":0.004},{"t":47.3,"c":0.003}],
"f11R":[{"t":0.5,"f":0.018},{"t":1,"f":0.024},{"t":2,"f":0.028},{"t":4,"f":0.029},{"t":6,"f":0.03},{"t":8,"f":0.031},{"t":10,"f":0.033},{"t":12,"f":0.034},{"t":14,"f":0.033},{"t":16,"f":0.03},{"t":18,"f":0.026},{"t":20,"f":0.022},{"t":22,"f":0.019},{"t":25,"f":0.015},{"t":28,"f":0.012},{"t":31,"f":0.009},{"t":34,"f":0.007},{"t":37,"f":0.005},{"t":40,"f":0.004},{"t":43,"f":0.003},{"t":46,"f":0.002},{"t":50,"f":0.0015}],
"b12L":[{"t":0.4,"c":0.042},{"t":0.8,"c":0.045},{"t":1.2,"c":0.046},{"t":1.6,"c":0.048},{"t":2,"c":0.048},{"t":2.4,"c":0.05},{"t":2.8,"c":0.05},{"t":3.2,"c":0.048},{"t":3.6,"c":0.046},{"t":4,"c":0.046},{"t":4.4,"c":0.045},{"t":4.8,"c":0.044},{"t":5.2,"c":0.042},{"t":5.6,"c":0.04},{"t":6,"c":0.04},{"t":6.4,"c":0.038},{"t":6.8,"c":0.034},{"t":7.2,"c":0.032},{"t":7.6,"c":0.03},{"t":8,"c":0.028},{"t":8.4,"c":0.03},{"t":8.8,"c":0.026},{"t":9.2,"c":0.025},{"t":9.6,"c":0.024},{"t":10,"c":0.022},{"t":10.4,"c":0.02},{"t":10.8,"c":0.02},{"t":11.2,"c":0.018},{"t":11.6,"c":0.016},{"t":12,"c":0.017},{"t":12.4,"c":0.015},{"t":12.8,"c":0.014},{"t":13.2,"c":0.012},{"t":13.6,"c":0.013},{"t":14,"c":0.012},{"t":14.4,"c":0.01},{"t":14.8,"c":0.01},{"t":15.2,"c":0.009},{"t":15.6,"c":0.008},{"t":16,"c":0.009},{"t":16.4,"c":0.007},{"t":16.8,"c":0.008},{"t":17.2,"c":0.006},{"t":17.6,"c":0.005},{"t":18,"c":0.006},{"t":18.4,"c":0.004},{"t":18.8,"c":0.005},{"t":19.2,"c":0.004}],
"f12L":[{"t":0,"f":0.012},{"t":0.5,"f":0.024},{"t":1,"f":0.028},{"t":2,"f":0.03},{"t":3,"f":0.03},{"t":4,"f":0.029},{"t":5,"f":0.027},{"t":6,"f":0.025},{"t":7,"f":0.023},{"t":8,"f":0.021},{"t":9,"f":0.019},{"t":10,"f":0.017},{"t":11,"f":0.015},{"t":12,"f":0.013},{"t":13,"f":0.011},{"t":14,"f":0.0095},{"t":15,"f":0.008},{"t":16,"f":0.007},{"t":17,"f":0.006},{"t":18,"f":0.005},{"t":19,"f":0.004},{"t":20,"f":0.0035}],
"b12R":[{"t":0.6,"c":0.03},{"t":1.2,"c":0.045},{"t":1.8,"c":0.048},{"t":2.4,"c":0.05},{"t":3,"c":0.05},{"t":3.6,"c":0.05},{"t":4.2,"c":0.049},{"t":4.8,"c":0.048},{"t":5.4,"c":0.048},{"t":6,"c":0.046},{"t":6.6,"c":0.044},{"t":7.2,"c":0.042},{"t":7.8,"c":0.04},{"t":8.4,"c":0.038},{"t":9,"c":0.036},{"t":9.6,"c":0.034},{"t":10.2,"c":0.03},{"t":10.8,"c":0.028},{"t":11.4,"c":0.026},{"t":12,"c":0.028},{"t":12.6,"c":0.025},{"t":13.2,"c":0.024},{"t":13.8,"c":0.022},{"t":14.4,"c":0.02},{"t":15,"c":0.022},{"t":15.6,"c":0.019},{"t":16.2,"c":0.018},{"t":16.8,"c":0.016},{"t":17.4,"c":0.015},{"t":18,"c":0.015},{"t":18.6,"c":0.013},{"t":19.2,"c":0.012},{"t":19.8,"c":0.012},{"t":20.4,"c":0.01},{"t":21,"c":0.011},{"t":21.6,"c":0.01},{"t":22.2,"c":0.008},{"t":22.8,"c":0.009},{"t":23.4,"c":0.008},{"t":24,"c":0.007},{"t":24.6,"c":0.008},{"t":25.2,"c":0.006},{"t":25.8,"c":0.006},{"t":26.4,"c":0.005},{"t":27,"c":0.005},{"t":27.6,"c":0.004},{"t":28.2,"c":0.004},{"t":28.8,"c":0.003}],
"f12R":[{"t":0,"f":0.012},{"t":0.5,"f":0.025},{"t":1,"f":0.029},{"t":2,"f":0.03},{"t":4,"f":0.03},{"t":6,"f":0.029},{"t":8,"f":0.027},{"t":10,"f":0.023},{"t":12,"f":0.02},{"t":14,"f":0.017},{"t":16,"f":0.014},{"t":18,"f":0.012},{"t":20,"f":0.01},{"t":22,"f":0.008},{"t":24,"f":0.007},{"t":26,"f":0.005},{"t":28,"f":0.004},{"t":30,"f":0.003}]
},
"concat":[
{
 "width":204,"height":33.5,
 "encoding":{"x":{"type":"quantitative","scale":{"domain":[0,1],"range":[-69,551]},"axis":null},"y":{"type":"quantitative","scale":{"domain":[0,1],"range":[0,1677]},"axis":null}},
 "layer":[
  {"data":{"values":[{}]},"mark":{"type":"text","align":"left","baseline":"alphabetic","fontSize":15,"fontWeight":"bold"},"encoding":{"x":{"datum":0.1597},"y":{"datum":0.0197},"text":{"value":"65"}}},
  {"data":{"values":[{}]},"mark":{"type":"text","align":"left","baseline":"alphabetic","fontSize":15},"encoding":{"x":{"datum":0.1877},"y":{"datum":0.0197},"text":{"value":"-mer"}}},
  {"data":{"values":[{}]},"mark":{"type":"text","align":"left","baseline":"alphabetic","fontSize":15},"encoding":{"x":{"datum":0.1597},"y":{"datum":0.031},"text":{"value":"17-mer"}}},
  {"data":{"values":[{}]},"mark":{"type":"text","align":"right","baseline":"alphabetic","fontSize":17,"font":"Liberation Serif"},"encoding":{"x":{"datum":0.6387},"y":{"datum":0.0195},"text":{"value":"5’-(T)₂₃-TTGGAGCTG"}}},
  {"data":{"values":[{}]},"mark":{"type":"text","align":"left","baseline":"alphabetic","fontSize":17,"font":"Liberation Serif","color":"#c4232b"},"encoding":{"x":{"datum":0.6387},"y":{"datum":0.0195},"text":{"value":"X"}}},
  {"data":{"values":[{}]},"mark":{"type":"text","align":"left","baseline":"alphabetic","fontSize":17,"font":"Liberation Serif"},"encoding":{"x":{"datum":0.6585},"y":{"datum":0.0195},"text":{"value":"TGGCGTAGG-(T)₂₃"}}},
  {"data":{"values":[{}]},"mark":{"type":"text","align":"right","baseline":"alphabetic","fontSize":17,"font":"Liberation Serif"},"encoding":{"x":{"datum":0.6435},"y":{"datum":0.031},"text":{"value":"3’-ACCTCGAC"}}},
  {"data":{"values":[{}]},"mark":{"type":"text","align":"left","baseline":"alphabetic","fontSize":17,"font":"Liberation Serif","color":"#c4232b"},"encoding":{"x":{"datum":0.6435},"y":{"datum":0.031},"text":{"value":"Y"}}},
  {"data":{"values":[{}]},"mark":{"type":"text","align":"left","baseline":"alphabetic","fontSize":17,"font":"Liberation Serif"},"encoding":{"x":{"datum":0.6634},"y":{"datum":0.031},"text":{"value":"ACCGCATC"}}},
  {"data":{"values":[{}]},"mark":{"type":"rule","stroke":"#333","strokeWidth":1},"encoding":{"x":{"datum":0.0497},"y":{"datum":0.0406},"y2":{"datum":0.4919}}},
  {"data":{"values":[{}]},"mark":{"type":"rule","stroke":"#333","strokeWidth":1},"encoding":{"x":{"datum":0.0497},"y":{"datum":0.5236},"y2":{"datum":0.9887}}},
  {"data":{"values":[{}]},"mark":{"type":"point","shape":"triangle-up","size":45,"filled":true,"color":"#222","opacity":1},"encoding":{"x":{"datum":0.0497},"y":{"datum":0.0388}}},
  {"data":{"values":[{}]},"mark":{"type":"point","shape":"triangle-down","size":45,"filled":true,"color":"#222","opacity":1},"encoding":{"x":{"datum":0.0497},"y":{"datum":0.9909}}},
  {"data":{"values":[{}]},"mark":{"type":"text","angle":270,"fontSize":27},"encoding":{"x":{"datum":0.04145},"y":{"datum":0.50745},"text":{"value":"C/T"}}},
  {"data":{"values":[{}]},"mark":{"type":"rule","stroke":"#333","strokeWidth":1},"encoding":{"x":{"datum":0.1021},"x2":{"datum":0.4629},"y":{"datum":0.99344}}},
  {"data":{"values":[{}]},"mark":{"type":"rule","stroke":"#333","strokeWidth":1},"encoding":{"x":{"datum":0.5758},"x2":{"datum":0.9311},"y":{"datum":0.99344}}},
  {"data":{"values":[{}]},"mark":{"type":"point","shape":"triangle-left","size":40,"filled":true,"color":"#222","opacity":1},"encoding":{"x":{"datum":0.1021},"y":{"datum":0.99344}}},
  {"data":{"values":[{}]},"mark":{"type":"point","shape":"triangle-right","size":40,"filled":true,"color":"#222","opacity":1},"encoding":{"x":{"datum":0.9311},"y":{"datum":0.99344}}},
  {"data":{"values":[{}]},"mark":{"type":"text","fontSize":25},"encoding":{"x":{"datum":0.5194},"y":{"datum":0.99344},"text":{"value":"t (ms)"}}}
 ]
},
{
 "width":204,"height":33.5,
 "encoding":{"x":{"type":"quantitative","scale":{"domain":[0,1],"range":[-366,254]},"axis":null},"y":{"type":"quantitative","scale":{"domain":[0,1],"range":[0,1677]},"axis":null}},
 "layer":[
  {"data":{"values":[{}]},"mark":{"type":"rule","stroke":"#666","strokeWidth":1},"encoding":{"x":{"datum":0.9745},"y":{"datum":0.1777},"y2":{"datum":0.48}}},
  {"data":{"values":[{}]},"mark":{"type":"rule","stroke":"#666","strokeWidth":1},"encoding":{"x":{"datum":0.9745},"y":{"datum":0.5844},"y2":{"datum":0.8963}}},
  {"data":{"values":[{}]},"mark":{"type":"point","shape":"triangle-down","size":45,"filled":true,"color":"#222","opacity":1},"encoding":{"x":{"datum":0.9745},"y":{"datum":0.8975}}},
  {"data":{"values":[{}]},"mark":{"type":"text","angle":270,"fontSize":28},"encoding":{"x":{"datum":0.9677},"y":{"datum":0.5319},"text":{"value":"Tₘ decreases"}}}
 ]
},
{"width":204,"height":98,"layer":[
 {"data":{"name":"b1L"},"mark":{"type":"bar","binSpacing":0,"fill":"#fcfcfc","stroke":"#262626","strokeWidth":0.65},"encoding":{"x":{"field":"t","type":"quantitative","bin":{"binned":true,"step":30},"scale":{"domain":[0,1500]},"axis":{"values":[0,300,600,900,1200,1500],"format":"d"}},"y":{"field":"c","type":"quantitative","scale":{"domain":[0,0.1]},"axis":{"values":[0,0.05,0.1],"format":".2f"}}}},
 {"data":{"name":"f1L"},"mark":{"type":"line","stroke":"#e2526a","strokeWidth":1.3,"opacity":0.85},"encoding":{"x":{"field":"t","type":"quantitative"},"y":{"field":"f","type":"quantitative"}}},
 {"data":{"values":[{}]},"mark":{"type":"point","shape":"M-1,-0.5H1V0.5H-1Z","size":3600,"filled":true,"fill":"white","stroke":"#333","strokeWidth":1,"opacity":1},"encoding":{"x":{"datum":689},"y":{"datum":0.0884}}},
 {"data":{"values":[{}]},"mark":{"type":"text","fontSize":21},"encoding":{"x":{"datum":689},"y":{"datum":0.0884},"text":{"value":"G:C"}}},
 {"data":{"values":[{}]},"mark":{"type":"text","fontSize":20.5,"align":"left","baseline":"alphabetic"},"encoding":{"x":{"datum":453},"y":{"datum":0.0453},"text":{"value":"τ₃′ = 320 ± 30 ms"}}}
]},
{"width":204,"height":98,"layer":[
 {"data":{"name":"b1R"},"mark":{"type":"bar","binSpacing":0,"fill":"#fcfcfc","stroke":"#262626","strokeWidth":0.65},"encoding":{"x":{"field":"t","type":"quantitative","bin":{"binned":true,"step":30},"scale":{"domain":[0,1400]},"axis":{"values":[0,200,400,600,800,1000,1200,1400],"format":"d"}},"y":{"field":"c","type":"quantitative","scale":{"domain":[0,0.12]},"axis":{"values":[0,0.04,0.08,0.12],"labelExpr":"replace(format(datum.value,'.2f'),'.',',')"}}}},
 {"data":{"name":"f1R"},"mark":{"type":"line","stroke":"#e2526a","strokeWidth":1.3,"opacity":0.85},"encoding":{"x":{"field":"t","type":"quantitative"},"y":{"field":"f","type":"quantitative"}}},
 {"data":{"values":[{}]},"mark":{"type":"text","fontSize":20.5,"align":"left","baseline":"alphabetic"},"encoding":{"x":{"datum":442},"y":{"datum":0.0632},"text":{"value":"τ₅′ = 290 ± 20 ms"}}}
]},
{"width":204,"height":95,"layer":[
 {"data":{"name":"b2L"},"mark":{"type":"bar","binSpacing":0,"fill":"#fcfcfc","stroke":"#262626","strokeWidth":0.65},"encoding":{"x":{"field":"t","type":"quantitative","bin":{"binned":true,"step":10},"scale":{"domain":[0,400]},"axis":{"values":[0,100,200,300,400],"format":"d"}},"y":{"field":"c","type":"quantitative","scale":{"domain":[0,0.12]},"axis":{"values":[0,0.04,0.08,0.12],"format":".2f"}}}},
 {"data":{"name":"f2L"},"mark":{"type":"line","stroke":"#e2526a","strokeWidth":1.3,"opacity":0.85},"encoding":{"x":{"field":"t","type":"quantitative"},"y":{"field":"f","type":"quantitative"}}},
 {"data":{"values":[{}]},"mark":{"type":"point","shape":"M-1,-0.5H1V0.5H-1Z","size":3600,"filled":true,"fill":"white","stroke":"#333","strokeWidth":1,"opacity":1},"encoding":{"x":{"datum":188},"y":{"datum":0.1135}}},
 {"data":{"values":[{}]},"mark":{"type":"text","fontSize":21},"encoding":{"x":{"datum":188},"y":{"datum":0.1135},"text":{"value":"OG:C"}}},
 {"data":{"values":[{}]},"mark":{"type":"text","fontSize":20.5,"align":"left","baseline":"alphabetic"},"encoding":{"x":{"datum":128},"y":{"datum":0.0645},"text":{"value":"τ₃′ = 76 ± 5 ms"}}}
]},
{"width":204,"height":95,"layer":[
 {"data":{"name":"b2R"},"mark":{"type":"bar","binSpacing":0,"fill":"#fcfcfc","stroke":"#262626","strokeWidth":0.65},"encoding":{"x":{"field":"t","type":"quantitative","bin":{"binned":true,"step":20},"scale":{"domain":[0,800]},"axis":{"values":[0,200,400,600,800],"format":"d"}},"y":{"field":"c","type":"quantitative","scale":{"domain":[0,0.12]},"axis":{"values":[0,0.06,0.12],"labelExpr":"replace(format(datum.value,'.2f'),'.',',')"}}}},
 {"data":{"name":"f2R"},"mark":{"type":"line","stroke":"#e2526a","strokeWidth":1.3,"opacity":0.85},"encoding":{"x":{"field":"t","type":"quantitative"},"y":{"field":"f","type":"quantitative"}}},
 {"data":{"values":[{}]},"mark":{"type":"text","fontSize":20.5,"align":"left","baseline":"alphabetic"},"encoding":{"x":{"datum":206},"y":{"datum":0.058},"text":{"value":"τ₅′ = 110 ± 10 ms"}}}
]},
{"width":204,"height":98,"layer":[
 {"data":{"name":"b3L"},"mark":{"type":"bar","binSpacing":0,"fill":"#fcfcfc","stroke":"#262626","strokeWidth":0.65},"encoding":{"x":{"field":"t","type":"quantitative","bin":{"binned":true,"step":7.5},"scale":{"domain":[0,300]},"axis":{"values":[0,100,200,300],"format":"d"}},"y":{"field":"c","type":"quantitative","scale":{"domain":[0,0.16]},"axis":{"values":[0,0.08,0.16],"format":".2f"}}}},
 {"data":{"name":"f3L"},"mark":{"type":"line","stroke":"#e2526a","strokeWidth":1.3,"opacity":0.85},"encoding":{"x":{"field":"t","type":"quantitative"},"y":{"field":"f","type":"quantitative"}}},
 {"data":{"values":[{}]},"mark":{"type":"point","shape":"M-1,-0.5H1V0.5H-1Z","size":3600,"filled":true,"fill":"white","stroke":"#333","strokeWidth":1,"opacity":1},"encoding":{"x":{"datum":145},"y":{"datum":0.152}}},
 {"data":{"values":[{}]},"mark":{"type":"text","fontSize":21},"encoding":{"x":{"datum":145},"y":{"datum":0.152},"text":{"value":"OG:D"}}},
 {"data":{"values":[{}]},"mark":{"type":"text","fontSize":20.5,"align":"left","baseline":"alphabetic"},"encoding":{"x":{"datum":108},"y":{"datum":0.08},"text":{"value":"τ₃′ = 49 ± 2 ms"}}}
]},
{"width":204,"height":98,"layer":[
 {"data":{"name":"b3R"},"mark":{"type":"bar","binSpacing":0,"fill":"#fcfcfc","stroke":"#262626","strokeWidth":0.65},"encoding":{"x":{"field":"t","type":"quantitative","bin":{"binned":true,"step":37.5},"scale":{"domain":[0,1500]},"axis":{"values":[0,500,1000,1500],"format":"d"}},"y":{"field":"c","type":"quantitative","scale":{"domain":[0,0.18]},"axis":{"values":[0,0.09,0.18],"format":".2f"}}}},
 {"data":{"name":"f3R"},"mark":{"type":"line","stroke":"#e2526a","strokeWidth":1.3,"opacity":0.85},"encoding":{"x":{"field":"t","type":"quantitative"},"y":{"field":"f","type":"quantitative"}}},
 {"data":{"values":[{}]},"mark":{"type":"text","fontSize":20.5,"align":"left","baseline":"alphabetic"},"encoding":{"x":{"datum":474},"y":{"datum":0.09},"text":{"value":"τ₅′ = 200 ± 20 ms"}}}
]},
{"width":204,"height":100,"layer":[
 {"data":{"name":"b4L"},"mark":{"type":"bar","binSpacing":0,"fill":"#fcfcfc","stroke":"#262626","strokeWidth":0.65},"encoding":{"x":{"field":"t","type":"quantitative","bin":{"binned":true,"step":5},"scale":{"domain":[0,200]},"axis":{"values":[0,50,100,150,200],"format":"d"}},"y":{"field":"c","type":"quantitative","scale":{"domain":[0,0.18]},"axis":{"values":[0,0.09,0.18],"format":".2f"}}}},
 {"data":{"name":"f4L"},"mark":{"type":"line","stroke":"#e2526a","strokeWidth":1.3,"opacity":0.85},"encoding":{"x":{"field":"t","type":"quantitative"},"y":{"field":"f","type":"quantitative"}}},
 {"data":{"values":[{}]},"mark":{"type":"point","shape":"M-1,-0.5H1V0.5H-1Z","size":3600,"filled":true,"fill":"white","stroke":"#333","strokeWidth":1,"opacity":1},"encoding":{"x":{"datum":101},"y":{"datum":0.157}}},
 {"data":{"values":[{}]},"mark":{"type":"text","fontSize":21},"encoding":{"x":{"datum":101},"y":{"datum":0.157},"text":{"value":"OG:A"}}},
 {"data":{"values":[{}]},"mark":{"type":"text","fontSize":20.5,"align":"left","baseline":"alphabetic"},"encoding":{"x":{"datum":81.4},"y":{"datum":0.0945},"text":{"value":"τ₃′ = 27 ± 3 ms"}}}
]},
{"width":204,"height":100,"layer":[
 {"data":{"name":"b4R"},"mark":{"type":"bar","binSpacing":0,"fill":"#fcfcfc","stroke":"#262626","strokeWidth":0.65},"encoding":{"x":{"field":"t","type":"quantitative","bin":{"binned":true,"step":25},"scale":{"domain":[0,1000]},"axis":{"values":[0,200,400,600,800,1000],"format":"d"}},"y":{"field":"c","type":"quantitative","scale":{"domain":[0,0.14]},"axis":{"values":[0,0.07,0.14],"format":".2f"}}}},
 {"data":{"name":"f4R"},"mark":{"type":"line","stroke":"#e2526a","strokeWidth":1.3,"opacity":0.85},"encoding":{"x":{"field":"t","type":"quantitative"},"y":{"field":"f","type":"quantitative"}}},
 {"data":{"values":[{}]},"mark":{"type":"text","fontSize":20.5,"align":"left","baseline":"alphabetic"},"encoding":{"x":{"datum":322},"y":{"datum":0.0804},"text":{"value":"τ₅′ = 170 ± 30 ms"}}}
]},
{"width":204,"height":98,"layer":[
 {"data":{"name":"b5L"},"mark":{"type":"bar","binSpacing":0,"fill":"#fcfcfc","stroke":"#262626","strokeWidth":0.65},"encoding":{"x":{"field":"t","type":"quantitative","bin":{"binned":true,"step":10},"scale":{"domain":[0,400]},"axis":{"values":[0,100,200,300,400],"format":"d"}},"y":{"field":"c","type":"quantitative","scale":{"domain":[0,0.18]},"axis":{"values":[0,0.06,0.12,0.18],"format":".2f"}}}},
 {"data":{"name":"f5L"},"mark":{"type":"line","stroke":"#e2526a","strokeWidth":1.3,"opacity":0.85},"encoding":{"x":{"field":"t","type":"quantitative"},"y":{"field":"f","type":"quantitative"}}},
 {"data":{"values":[{}]},"mark":{"type":"point","shape":"M-1,-0.5H1V0.5H-1Z","size":3600,"filled":true,"fill":"white","stroke":"#333","strokeWidth":1,"opacity":1},"encoding":{"x":{"datum":191},"y":{"datum":0.178}}},
 {"data":{"values":[{}]},"mark":{"type":"text","fontSize":21},"encoding":{"x":{"datum":191},"y":{"datum":0.178},"text":{"value":"G:D"}}},
 {"data":{"values":[{}]},"mark":{"type":"text","fontSize":20.5,"align":"left","baseline":"alphabetic"},"encoding":{"x":{"datum":167},"y":{"datum":0.101},"text":{"value":"τ₃′ = 54 ± 3 ms"}}}
]},
{"width":204,"height":98,"layer":[
 {"data":{"name":"b5R"},"mark":{"type":"bar","binSpacing":0,"fill":"#fcfcfc","stroke":"#262626","strokeWidth":0.65},"encoding":{"x":{"field":"t","type":"quantitative","bin":{"binned":true,"step":10},"scale":{"domain":[0,400]},"axis":{"values":[0,100,200,300,400],"format":"d"}},"y":{"field":"c","type":"quantitative","scale":{"domain":[0,0.14]},"axis":{"values":[0,0.07,0.14],"format":".2f"}}}},
 {"data":{"name":"f5R"},"mark":{"type":"line","stroke":"#e2526a","strokeWidth":1.3,"opacity":0.85},"encoding":{"x":{"field":"t","type":"quantitative"},"y":{"field":"f","type":"quantitative"}}},
 {"data":{"values":[{}]},"mark":{"type":"text","fontSize":20.5,"align":"left","baseline":"alphabetic"},"encoding":{"x":{"datum":145},"y":{"datum":0.0814},"text":{"value":"τ₅′ = 60 ± 4 ms"}}}
]},
{"width":204,"height":91,"layer":[
 {"data":{"name":"b6L"},"mark":{"type":"bar","binSpacing":0,"fill":"#fcfcfc","stroke":"#262626","strokeWidth":0.65},"encoding":{"x":{"field":"t","type":"quantitative","bin":{"binned":true,"step":10},"scale":{"domain":[0,400]},"axis":{"values":[0,100,200,300,400],"format":"d"}},"y":{"field":"c","type":"quantitative","scale":{"domain":[0,0.18]},"axis":{"values":[0,0.09,0.18],"format":".2f"}}}},
 {"data":{"name":"f6L"},"mark":{"type":"line","stroke":"#e2526a","strokeWidth":1.3,"opacity":0.85},"encoding":{"x":{"field":"t","type":"quantitative"},"y":{"field":"f","type":"quantitative"}}},
 {"data":{"values":[{}]},"mark":{"type":"point","shape":"M-1,-0.5H1V0.5H-1Z","size":3600,"filled":true,"fill":"white","stroke":"#333","strokeWidth":1,"opacity":1},"encoding":{"x":{"datum":170},"y":{"datum":0.17}}},
 {"data":{"values":[{}]},"mark":{"type":"text","fontSize":21},"encoding":{"x":{"datum":170},"y":{"datum":0.17},"text":{"value":"G:A"}}},
 {"data":{"values":[{}]},"mark":{"type":"text","fontSize":20.5,"align":"left","baseline":"alphabetic"},"encoding":{"x":{"datum":167},"y":{"datum":0.091},"text":{"value":"τ₃′ = 47 ± 3 ms"}}}
]},
{"width":204,"height":91,"layer":[
 {"data":{"name":"b6R"},"mark":{"type":"bar","binSpacing":0,"fill":"#fcfcfc","stroke":"#262626","strokeWidth":0.65},"encoding":{"x":{"field":"t","type":"quantitative","bin":{"binned":true,"step":10},"scale":{"domain":[0,400]},"axis":{"values":[0,100,200,300,400],"format":"d"}},"y":{"field":"c","type":"quantitative","scale":{"domain":[0,0.2]},"axis":{"values":[0,0.1,0.2],"format":".1f"}}}},
 {"data":{"name":"f6R"},"mark":{"type":"line","stroke":"#e2526a","strokeWidth":1.3,"opacity":0.85},"encoding":{"x":{"field":"t","type":"quantitative"},"y":{"field":"f","type":"quantitative"}}},
 {"data":{"values":[{}]},"mark":{"type":"text","fontSize":20.5,"align":"left","baseline":"alphabetic"},"encoding":{"x":{"datum":146},"y":{"datum":0.1055},"text":{"value":"τ₅′ = 34 ± 2 ms"}}}
]},
{"width":204,"height":87,"layer":[
 {"data":{"name":"b7L"},"mark":{"type":"bar","binSpacing":0,"fill":"#fcfcfc","stroke":"#262626","strokeWidth":0.65},"encoding":{"x":{"field":"t","type":"quantitative","bin":{"binned":true,"step":3},"scale":{"domain":[0,120]},"axis":{"values":[0,40,80,120],"format":"d"}},"y":{"field":"c","type":"quantitative","scale":{"domain":[0,0.18]},"axis":{"values":[0,0.09,0.18],"format":".2f"}}}},
 {"data":{"name":"f7L"},"mark":{"type":"line","stroke":"#e2526a","strokeWidth":1.3,"opacity":0.85},"encoding":{"x":{"field":"t","type":"quantitative"},"y":{"field":"f","type":"quantitative"}}},
 {"data":{"values":[{}]},"mark":{"type":"point","shape":"M-1,-0.5H1V0.5H-1Z","size":3600,"filled":true,"fill":"white","stroke":"#333","strokeWidth":1,"opacity":1},"encoding":{"x":{"datum":50.9},"y":{"datum":0.144}}},
 {"data":{"values":[{}]},"mark":{"type":"text","fontSize":21},"encoding":{"x":{"datum":50.9},"y":{"datum":0.144},"text":{"value":"Sp:D"}}},
 {"data":{"values":[{}]},"mark":{"type":"text","fontSize":20.5,"align":"left","baseline":"alphabetic"},"encoding":{"x":{"datum":50.2},"y":{"datum":0.07},"text":{"value":"τ₃′ = 17 ± 1 ms"}}}
]},
{"width":204,"height":87,"layer":[
 {"data":{"name":"b7R"},"mark":{"type":"bar","binSpacing":0,"fill":"#fcfcfc","stroke":"#262626","strokeWidth":0.65},"encoding":{"x":{"field":"t","type":"quantitative","bin":{"binned":true,"step":5},"scale":{"domain":[0,200]},"axis":{"values":[0,50,100,150,200],"format":"d"}},"y":{"field":"c","type":"quantitative","scale":{"domain":[0,0.12]},"axis":{"values":[0,0.06,0.12],"format":".2f"}}}},
 {"data":{"name":"f7R"},"mark":{"type":"line","stroke":"#e2526a","strokeWidth":1.3,"opacity":0.85},"encoding":{"x":{"field":"t","type":"quantitative"},"y":{"field":"f","type":"quantitative"}}},
 {"data":{"values":[{}]},"mark":{"type":"text","fontSize":20.5,"align":"left","baseline":"alphabetic"},"encoding":{"x":{"datum":74.9},"y":{"datum":0.0533},"text":{"value":"τ₅′ = 37 ± 4 ms"}}}
]},
{"width":204,"height":92,"layer":[
 {"data":{"name":"b8L"},"mark":{"type":"bar","binSpacing":0,"fill":"#fcfcfc","stroke":"#262626","strokeWidth":0.65},"encoding":{"x":{"field":"t","type":"quantitative","bin":{"binned":true,"step":0.4},"scale":{"domain":[0,15]},"axis":{"values":[0,5,10,15],"format":"d"}},"y":{"field":"c","type":"quantitative","scale":{"domain":[0,0.1]},"axis":{"values":[0,0.05,0.1],"labelExpr":"replace(format(datum.value,'.2f'),'.',',')"}}}},
 {"data":{"name":"f8L"},"mark":{"type":"line","stroke":"#e2526a","strokeWidth":1.3,"opacity":0.85},"encoding":{"x":{"field":"t","type":"quantitative"},"y":{"field":"f","type":"quantitative"}}},
 {"data":{"values":[{}]},"mark":{"type":"point","shape":"M-1,-0.5H1V0.5H-1Z","size":3600,"filled":true,"fill":"white","stroke":"#333","strokeWidth":1,"opacity":1},"encoding":{"x":{"datum":6.72},"y":{"datum":0.0787}}},
 {"data":{"values":[{}]},"mark":{"type":"text","fontSize":21},"encoding":{"x":{"datum":6.72},"y":{"datum":0.0787},"text":{"value":"Gh:D"}}},
 {"data":{"values":[{}]},"mark":{"type":"text","fontSize":20.5,"align":"left","baseline":"alphabetic"},"encoding":{"x":{"datum":6.28},"y":{"datum":0.0394},"text":{"value":"τ₃′ = 2.9 ± 0.2 ms"}}}
]},
{"width":204,"height":92,"layer":[
 {"data":{"name":"b8R"},"mark":{"type":"bar","binSpacing":0,"fill":"#fcfcfc","stroke":"#262626","strokeWidth":0.65},"encoding":{"x":{"field":"t","type":"quantitative","bin":{"binned":true,"step":2},"scale":{"domain":[0,80]},"axis":{"values":[0,20,40,60,80],"format":"d"}},"y":{"field":"c","type":"quantitative","scale":{"domain":[0,0.12]},"axis":{"values":[0,0.06,0.12],"labelExpr":"replace(format(datum.value,'.2f'),'.',',')"}}}},
 {"data":{"name":"f8R"},"mark":{"type":"line","stroke":"#e2526a","strokeWidth":1.3,"opacity":0.85},"encoding":{"x":{"field":"t","type":"quantitative"},"y":{"field":"f","type":"quantitative"}}},
 {"data":{"values":[{}]},"mark":{"type":"text","fontSize":20.5,"align":"left","baseline":"alphabetic"},"encoding":{"x":{"datum":29.9},"y":{"datum":0.051},"text":{"value":"τ₅′ = 11 ± 1 ms"}}}
]},
{"width":204,"height":96,"layer":[
 {"data":{"name":"b9L"},"mark":{"type":"bar","binSpacing":0,"fill":"#fcfcfc","stroke":"#262626","strokeWidth":0.65},"encoding":{"x":{"field":"t","type":"quantitative","bin":{"binned":true,"step":1},"scale":{"domain":[0,40]},"axis":{"values":[0,10,20,30,40],"format":"d"}},"y":{"field":"c","type":"quantitative","scale":{"domain":[0,0.14]},"axis":{"values":[0,0.07,0.14],"format":".2f"}}}},
 {"data":{"name":"f9L"},"mark":{"type":"line","stroke":"#e2526a","strokeWidth":1.3,"opacity":0.85},"encoding":{"x":{"field":"t","type":"quantitative"},"y":{"field":"f","type":"quantitative"}}},
 {"data":{"values":[{}]},"mark":{"type":"point","shape":"M-1,-0.5H1V0.5H-1Z","size":3600,"filled":true,"fill":"white","stroke":"#333","strokeWidth":1,"opacity":1},"encoding":{"x":{"datum":16},"y":{"datum":0.1155}}},
 {"data":{"values":[{}]},"mark":{"type":"text","fontSize":21},"encoding":{"x":{"datum":16},"y":{"datum":0.1155},"text":{"value":"Sp:A"}}},
 {"data":{"values":[{}]},"mark":{"type":"text","fontSize":20.5,"align":"left","baseline":"alphabetic"},"encoding":{"x":{"datum":16.3},"y":{"datum":0.0592},"text":{"value":"τ₃′ = 6 ± 1 ms"}}}
]},
{"width":204,"height":96,"layer":[
 {"data":{"name":"b9R"},"mark":{"type":"bar","binSpacing":0,"fill":"#fcfcfc","stroke":"#262626","strokeWidth":0.65},"encoding":{"x":{"field":"t","type":"quantitative","bin":{"binned":true,"step":1.5},"scale":{"domain":[0,50]},"axis":{"values":[0,10,20,30,40,50],"format":"d"}},"y":{"field":"c","type":"quantitative","scale":{"domain":[0,0.08]},"axis":{"values":[0,0.04,0.08],"labelExpr":"replace(format(datum.value,'.2f'),'.',',')"}}}},
 {"data":{"name":"f9R"},"mark":{"type":"line","stroke":"#5b5fd9","strokeWidth":1.3,"opacity":0.8},"encoding":{"x":{"field":"t","type":"quantitative"},"y":{"field":"f","type":"quantitative"}}},
 {"data":{"values":[{}]},"mark":{"type":"text","fontSize":20.5,"align":"left","baseline":"alphabetic"},"encoding":{"x":{"datum":18.1},"y":{"datum":0.0586},"text":{"value":"τ₅′ = 18 ± 3 ms"}}},
 {"data":{"values":[{}]},"mark":{"type":"text","fontSize":20.5,"align":"right","baseline":"alphabetic"},"encoding":{"x":{"datum":56.7},"y":{"datum":0.0338},"text":{"value":"1.1 ± 0.8 ms"}}}
]},
{"width":204,"height":95,"layer":[
 {"data":{"name":"b10L"},"mark":{"type":"bar","binSpacing":0,"fill":"#fcfcfc","stroke":"#262626","strokeWidth":0.65},"encoding":{"x":{"field":"t","type":"quantitative","bin":{"binned":true,"step":1.2},"scale":{"domain":[0,50]},"axis":{"values":[0,10,20,30,40,50],"format":"d"}},"y":{"field":"c","type":"quantitative","scale":{"domain":[0,0.08]},"axis":{"values":[0,0.04,0.08],"format":".2f"}}}},
 {"data":{"name":"f10L"},"mark":{"type":"line","stroke":"#5b5fd9","strokeWidth":1.3,"opacity":0.8},"encoding":{"x":{"field":"t","type":"quantitative"},"y":{"field":"f","type":"quantitative"}}},
 {"data":{"values":[{}]},"mark":{"type":"point","shape":"M-1,-0.5H1V0.5H-1Z","size":3600,"filled":true,"fill":"white","stroke":"#333","strokeWidth":1,"opacity":1},"encoding":{"x":{"datum":16.6},"y":{"datum":0.0817}}},
 {"data":{"values":[{}]},"mark":{"type":"text","fontSize":21},"encoding":{"x":{"datum":16.6},"y":{"datum":0.0817},"text":{"value":"Gh:A"}}},
 {"data":{"values":[{}]},"mark":{"type":"text","fontSize":20.5,"align":"left","baseline":"alphabetic"},"encoding":{"x":{"datum":20.6},"y":{"datum":0.0559},"text":{"value":"τ₃′ = 18 ± 1 ms"}}},
 {"data":{"values":[{}]},"mark":{"type":"text","fontSize":20.5,"align":"right","baseline":"alphabetic"},"encoding":{"x":{"datum":60.8},"y":{"datum":0.0275},"text":{"value":"1.1 ± 0.2 ms"}}}
]},
{"width":204,"height":95,"layer":[
 {"data":{"name":"b10R"},"mark":{"type":"bar","binSpacing":0,"fill":"#fcfcfc","stroke":"#262626","strokeWidth":0.65},"encoding":{"x":{"field":"t","type":"quantitative","bin":{"binned":true,"step":1.2},"scale":{"domain":[0,50]},"axis":{"values":[0,10,20,30,40,50],"format":"d"}},"y":{"field":"c","type":"quantitative","scale":{"domain":[0,0.06]},"axis":{"values":[0,0.03,0.06],"format":".2f"}}}},
 {"data":{"name":"f10R"},"mark":{"type":"line","stroke":"#5b5fd9","strokeWidth":1.3,"opacity":0.8},"encoding":{"x":{"field":"t","type":"quantitative"},"y":{"field":"f","type":"quantitative"}}},
 {"data":{"values":[{}]},"mark":{"type":"text","fontSize":20.5,"align":"left","baseline":"alphabetic"},"encoding":{"x":{"datum":15.8},"y":{"datum":0.0419},"text":{"value":"τ₅′ = 17 ± 2 ms"}}},
 {"data":{"values":[{}]},"mark":{"type":"text","fontSize":20.5,"align":"right","baseline":"alphabetic"},"encoding":{"x":{"datum":54.7},"y":{"datum":0.0219},"text":{"value":"1.2 ± 0.5 ms"}}}
]},
{"width":204,"height":95,"layer":[
 {"data":{"name":"b11L"},"mark":{"type":"bar","binSpacing":0,"fill":"#fcfcfc","stroke":"#262626","strokeWidth":0.65},"encoding":{"x":{"field":"t","type":"quantitative","bin":{"binned":true,"step":0.4},"scale":{"domain":[0,20]},"axis":{"values":[0,5,10,15,20],"format":"d"}},"y":{"field":"c","type":"quantitative","scale":{"domain":[0,0.08]},"axis":{"values":[0,0.04,0.08],"format":".2f"}}}},
 {"data":{"name":"f11L"},"transform":[{"filter":"datum.t <= 6"}],"mark":{"type":"line","stroke":"#5b5fd9","strokeWidth":8,"opacity":0.16},"encoding":{"x":{"field":"t","type":"quantitative"},"y":{"field":"f","type":"quantitative"}}},
 {"data":{"name":"f11L"},"mark":{"type":"line","stroke":"#5b5fd9","strokeWidth":1.5,"opacity":0.8},"encoding":{"x":{"field":"t","type":"quantitative"},"y":{"field":"f","type":"quantitative"}}},
 {"data":{"values":[{}]},"mark":{"type":"point","shape":"M-1,-0.5H1V0.5H-1Z","size":3600,"filled":true,"fill":"white","stroke":"#333","strokeWidth":1,"opacity":1},"encoding":{"x":{"datum":6.05},"y":{"datum":0.08}}},
 {"data":{"values":[{}]},"mark":{"type":"text","fontSize":21},"encoding":{"x":{"datum":6.05},"y":{"datum":0.08},"text":{"value":"Sp:C"}}},
 {"data":{"values":[{}]},"mark":{"type":"text","fontSize":20.5,"align":"left","baseline":"alphabetic"},"encoding":{"x":{"datum":8.14},"y":{"datum":0.0559},"text":{"value":"τ₃′ = 3.5 ± 0.2 ms"}}},
 {"data":{"values":[{}]},"mark":{"type":"text","fontSize":20.5,"align":"right","baseline":"alphabetic"},"encoding":{"x":{"datum":24.1},"y":{"datum":0.0301},"text":{"value":"1.4  ± 0.1 ms"}}}
]},
{"width":204,"height":95,"layer":[
 {"data":{"name":"b11R"},"mark":{"type":"bar","binSpacing":0,"fill":"#fcfcfc","stroke":"#262626","strokeWidth":0.65},"encoding":{"x":{"field":"t","type":"quantitative","bin":{"binned":true,"step":1.2},"scale":{"domain":[0,50]},"axis":{"values":[0,10,20,30,40,50],"format":"d"}},"y":{"field":"c","type":"quantitative","scale":{"domain":[0,0.07]},"axis":{"values":[0,0.035,0.07],"format":".3f"}}}},
 {"data":{"name":"f11R"},"transform":[{"filter":"datum.t <= 12"}],"mark":{"type":"line","stroke":"#5b5fd9","strokeWidth":10,"opacity":0.16},"encoding":{"x":{"field":"t","type":"quantitative"},"y":{"field":"f","type":"quantitative"}}},
 {"data":{"name":"f11R"},"mark":{"type":"line","stroke":"#5b5fd9","strokeWidth":1.5,"opacity":0.8},"encoding":{"x":{"field":"t","type":"quantitative"},"y":{"field":"f","type":"quantitative"}}},
 {"data":{"values":[{}]},"mark":{"type":"text","fontSize":20.5,"align":"left","baseline":"alphabetic"},"encoding":{"x":{"datum":21.1},"y":{"datum":0.0497},"text":{"value":"τ₅′ = 11 ± 1 ms"}}},
 {"data":{"values":[{}]},"mark":{"type":"text","fontSize":20.5,"align":"right","baseline":"alphabetic"},"encoding":{"x":{"datum":53.8},"y":{"datum":0.0263},"text":{"value":"3 ± 1 ms"}}}
]},
{"width":204,"height":97,"layer":[
 {"data":{"name":"b12L"},"mark":{"type":"bar","binSpacing":0,"fill":"#fcfcfc","stroke":"#262626","strokeWidth":0.65},"encoding":{"x":{"field":"t","type":"quantitative","bin":{"binned":true,"step":0.4},"scale":{"domain":[0,20]},"axis":{"values":[0,5,10,15,20],"format":"d"}},"y":{"field":"c","type":"quantitative","scale":{"domain":[0,0.06]},"axis":{"values":[0,0.02,0.04,0.06],"format":".2f"}}}},
 {"data":{"name":"f12L"},"transform":[{"filter":"datum.t <= 6"}],"mark":{"type":"line","stroke":"#5b5fd9","strokeWidth":10,"opacity":0.16},"encoding":{"x":{"field":"t","type":"quantitative"},"y":{"field":"f","type":"quantitative"}}},
 {"data":{"name":"f12L"},"mark":{"type":"line","stroke":"#5b5fd9","strokeWidth":1.5,"opacity":0.8},"encoding":{"x":{"field":"t","type":"quantitative"},"y":{"field":"f","type":"quantitative"}}},
 {"data":{"values":[{}]},"mark":{"type":"point","shape":"M-1,-0.5H1V0.5H-1Z","size":3600,"filled":true,"fill":"white","stroke":"#333","strokeWidth":1,"opacity":1},"encoding":{"x":{"datum":5.23},"y":{"datum":0.0581}}},
 {"data":{"values":[{}]},"mark":{"type":"text","fontSize":21},"encoding":{"x":{"datum":5.23},"y":{"datum":0.0581},"text":{"value":"Gh:C"}}},
 {"data":{"values":[{}]},"mark":{"type":"text","fontSize":20.5,"align":"left","baseline":"alphabetic"},"encoding":{"x":{"datum":8.6},"y":{"datum":0.0414},"text":{"value":"τ₃′ = 5.7 ± 0.2 ms"}}},
 {"data":{"values":[{}]},"mark":{"type":"text","fontSize":20.5,"align":"right","baseline":"alphabetic"},"encoding":{"x":{"datum":24.5},"y":{"datum":0.0241},"text":{"value":"1.1 ± 0.1 ms"}}}
]},
{"width":204,"height":97,"layer":[
 {"data":{"name":"b12R"},"mark":{"type":"bar","binSpacing":0,"fill":"#fcfcfc","stroke":"#262626","strokeWidth":0.65},"encoding":{"x":{"field":"t","type":"quantitative","bin":{"binned":true,"step":0.6},"scale":{"domain":[0,30]},"axis":{"values":[0,6,12,18,24,30],"format":"d"}},"y":{"field":"c","type":"quantitative","scale":{"domain":[0,0.06]},"axis":{"values":[0,0.02,0.04,0.06],"format":".2f"}}}},
 {"data":{"name":"f12R"},"transform":[{"filter":"datum.t <= 8"}],"mark":{"type":"line","stroke":"#5b5fd9","strokeWidth":10,"opacity":0.16},"encoding":{"x":{"field":"t","type":"quantitative"},"y":{"field":"f","type":"quantitative"}}},
 {"data":{"name":"f12R"},"mark":{"type":"line","stroke":"#5b5fd9","strokeWidth":1.5,"opacity":0.8},"encoding":{"x":{"field":"t","type":"quantitative"},"y":{"field":"f","type":"quantitative"}}},
 {"data":{"values":[{}]},"mark":{"type":"text","fontSize":20.5,"align":"left","baseline":"alphabetic"},"encoding":{"x":{"datum":11.4},"y":{"datum":0.0414},"text":{"value":"τ₅′ = 8.8 ± 0.2 ms"}}},
 {"data":{"values":[{}]},"mark":{"type":"text","fontSize":20.5,"align":"right","baseline":"alphabetic"},"encoding":{"x":{"datum":34.6},"y":{"datum":0.0241},"text":{"value":"1.4 ± 0.1 ms"}}}
]}
]
}
